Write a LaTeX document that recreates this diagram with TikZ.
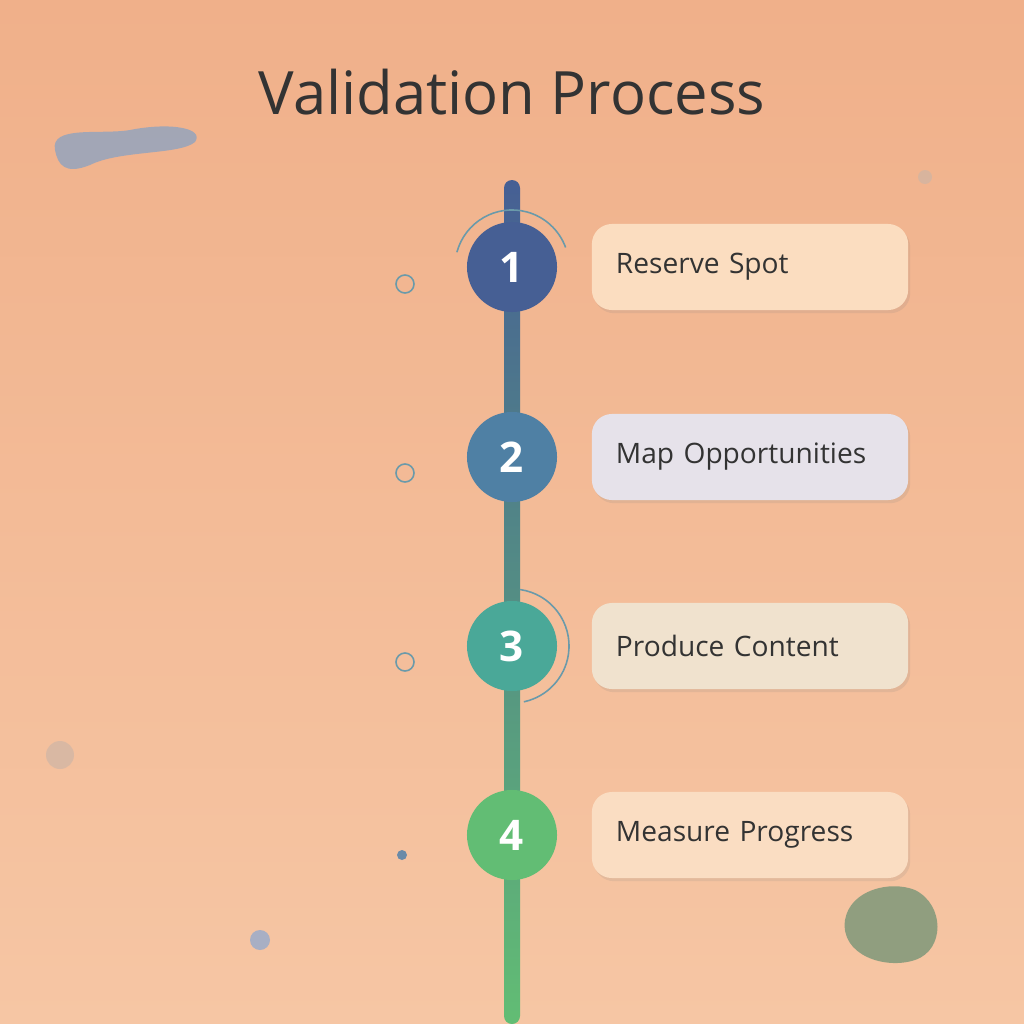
\documentclass[tikz,border=0pt]{standalone}
\usepackage{fontspec}
\setmainfont{Open Sans}
\usetikzlibrary{shadows}
\definecolor{bgA}{HTML}{F0B08A}
\definecolor{bgB}{HTML}{F6C6A4}
\definecolor{cA}{HTML}{465F94}
\definecolor{cB}{HTML}{4F80A4}
\definecolor{cC}{HTML}{4AA898}
\definecolor{cD}{HTML}{62BD74}
\definecolor{txt}{HTML}{333333}
\definecolor{ring}{HTML}{6A9AAA}
\definecolor{blobA}{HTML}{8FA3C0}
\definecolor{blobB}{HTML}{7F987A}
\definecolor{dotA}{HTML}{A8AFC4}
\definecolor{dotB}{HTML}{6A8AA8}
\definecolor{dotC}{HTML}{C8B4A8}
\definecolor{k1}{HTML}{FBDDC0}
\definecolor{k2}{HTML}{E6E2EA}
\definecolor{k3}{HTML}{F0E2CE}
\definecolor{k4}{HTML}{FADDC2}
\tikzset{
 stepdot/.style={circle,minimum size=0.9cm,inner sep=0,text=white,font=\fontsize{12}{12}\selectfont\bfseries},
 card/.style={rounded corners=0.2cm,minimum width=3.16cm,minimum height=0.86cm,text width=2.68cm,align=left,inner xsep=0.24cm,inner ysep=0,text=txt,font=\fontsize{8}{9}\selectfont,drop shadow={shadow xshift=0.6pt,shadow yshift=-0.9pt,opacity=0.15}},
 ringc/.style={draw=ring,line width=0.45pt,circle,minimum size=0.18cm,inner sep=0}
}
\begin{document}
\begin{tikzpicture}[x=0.01cm,y=-0.01cm]
\shade[top color=bgA,bottom color=bgB] (0,0) rectangle (1024,1024);
\useasboundingbox (0,0) rectangle (1024,1024);
% blobs
\fill[blobA,opacity=0.8] (55,150) .. controls (50,125) and (100,135) .. (130,130) .. controls (170,122) and (205,128) .. (195,142) .. controls (180,155) and (120,150) .. (90,165) .. controls (65,175) and (58,165) .. (55,150) -- cycle;
\fill[blobB,opacity=0.85] (845,920) .. controls (850,890) and (890,880) .. (915,890) .. controls (945,905) and (945,950) .. (915,960) .. controls (885,970) and (840,955) .. (845,920) -- cycle;
\fill[dotA] (260,940) circle (10);
\fill[dotB] (402,855) circle (5);
\fill[dotC,opacity=0.6] (60,755) circle (14);
\fill[dotC,opacity=0.6] (925,177) circle (7);
% line
\shade[top color=cA,bottom color=cD,rounded corners=0.08cm] (504,180) rectangle (520,1024);
\node[text=txt,font=\fontsize{17}{17}\selectfont] (title) at (512,92) {Validation Process};
% rings
\node[ringc] (r1) at (405,284) {};
\node[ringc] (r2) at (405,473) {};
\node[ringc] (r3) at (405,662) {};
% steps
\node[stepdot,fill=cA] (s1) at (512,267) {1};
\node[stepdot,fill=cB] (s2) at (512,457) {2};
\node[stepdot,fill=cC] (s3) at (512,646) {3};
\node[stepdot,fill=cD] (s4) at (512,835) {4};
\draw[ring,line width=0.45pt] (s1.center) ++(165:0.57cm) arc[start angle=165,end angle=20,radius=0.57cm];
\draw[ring,line width=0.45pt] (s3.center) ++(82:0.57cm) arc[start angle=82,end angle=-78,radius=0.57cm];
\node[card,fill=k1] (b1) at (750,267) {Reserve Spot};
\node[card,fill=k2] (b2) at (750,457) {Map Opportunities};
\node[card,fill=k3] (b3) at (750,646) {Produce Content};
\node[card,fill=k4] (b4) at (750,835) {Measure Progress};
\end{tikzpicture}
\end{document}
